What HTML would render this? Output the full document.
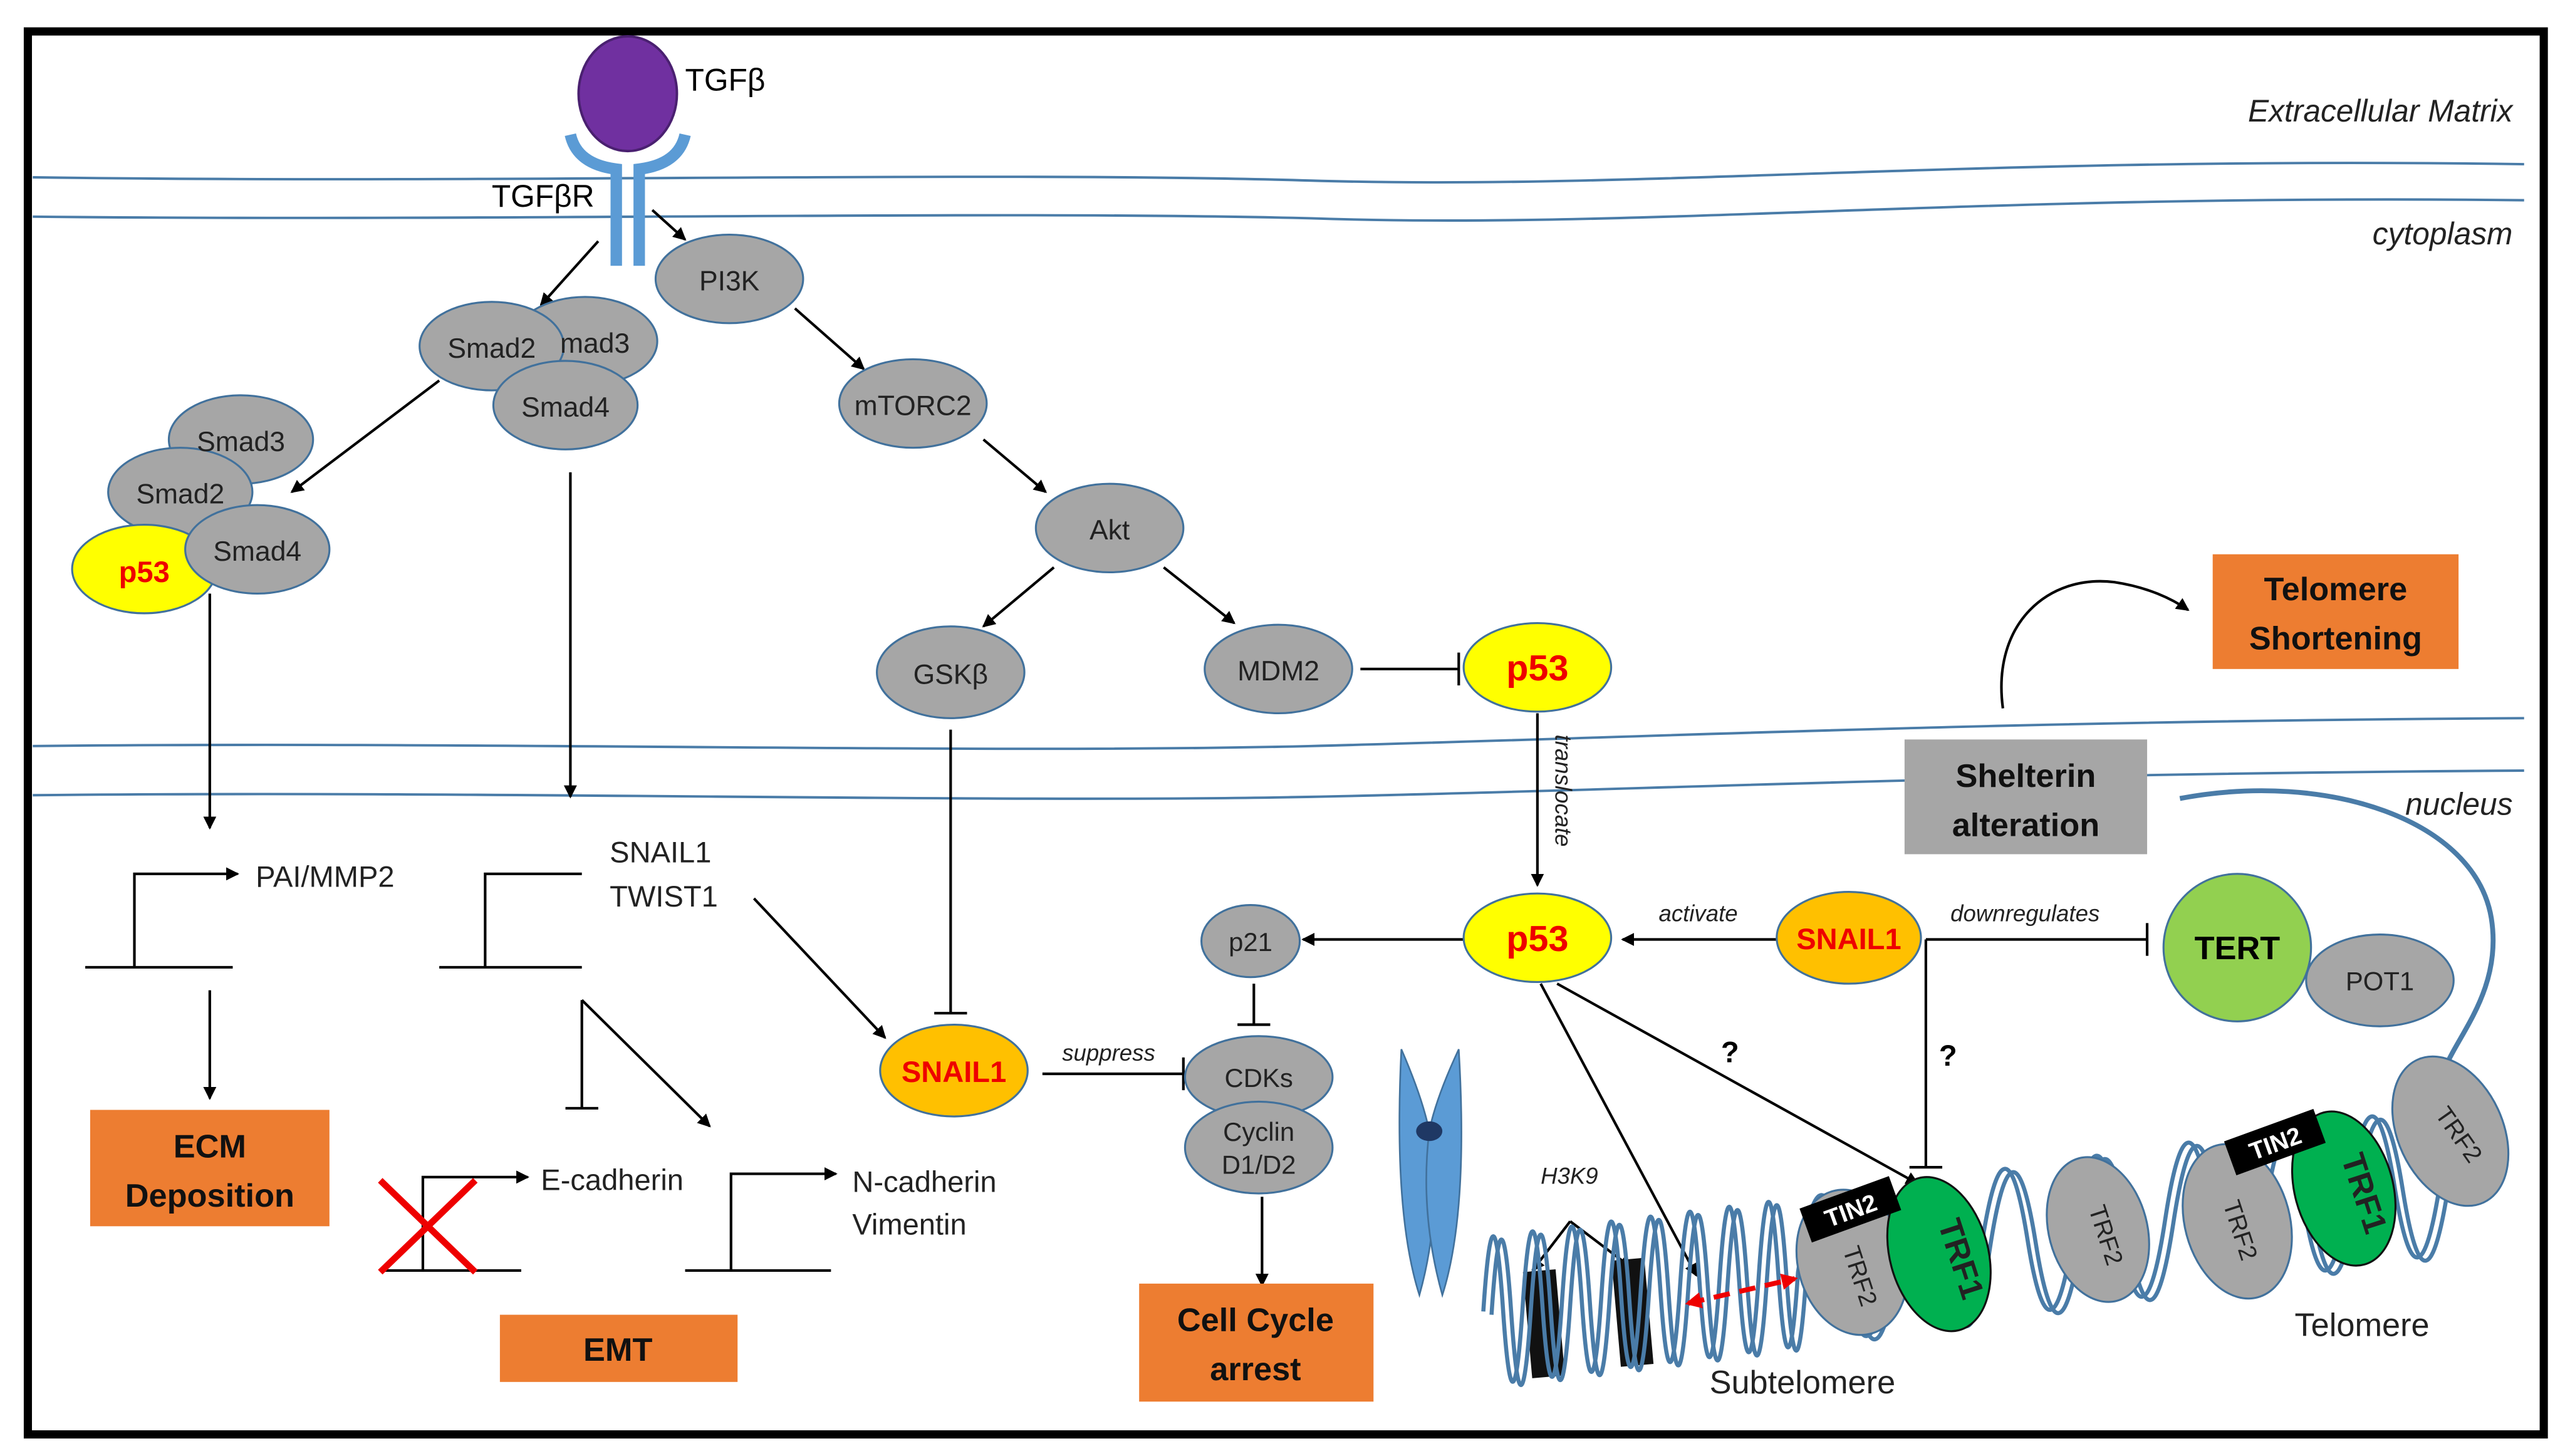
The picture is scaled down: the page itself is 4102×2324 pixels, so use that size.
<!DOCTYPE html>
<html><head><meta charset="utf-8"><style>
html,body{margin:0;padding:0;background:#fff}
svg{display:block}
text{font-family:"Liberation Sans",sans-serif}
</style></head><body>
<svg width="4102" height="2324" viewBox="0 0 1568 888" xmlns="http://www.w3.org/2000/svg">
<defs>
<marker id="a" markerWidth="8" markerHeight="8" refX="7" refY="4" orient="auto" markerUnits="userSpaceOnUse"><path d="M0,0 L8,4 L0,8 z" fill="#000"/></marker>
<marker id="r" markerWidth="10" markerHeight="10" refX="8" refY="5" orient="auto" markerUnits="userSpaceOnUse"><path d="M0,0 L10,5 L0,10 z" fill="#e00"/></marker>
<marker id="rs" markerWidth="10" markerHeight="10" refX="2" refY="5" orient="auto" markerUnits="userSpaceOnUse"><path d="M10,0 L0,5 L10,10 z" fill="#e00"/></marker>
<path id="hp" d="M905,800 Q911,709 917,798.5 Q923,888 929,797 Q935,706 941,795.5 Q947,885 953,794 Q959,703 965,792.5 Q971,882 977,791 Q983,700 989,789.5 Q995,879 1001,788 Q1007,697 1013,786.5 Q1019,876 1025,785 Q1031,694 1037,783.5 Q1043,873 1049,782 Q1055,691 1061,780.5 Q1067,870 1073,779 Q1079,688 1085,777.5 Q1091,867 1097,776 Q1111,684 1125,772 Q1139,860 1153,768 Q1167,676 1181,764 Q1195,852 1209,760 Q1223,668 1237,756 Q1251,844 1265,752 Q1279,660 1293,748 Q1307,836 1321,744 Q1335,652 1349,740 Q1363,828 1377,736 Q1391,644 1405,732 Q1419,820 1433,728 Q1447,636 1461,724 Q1475,812 1489,720 C1500,700 1495,675 1490,660"/>
</defs>
<rect x="0" y="0" width="1568" height="888" fill="#fff"/>
<rect x="17" y="19" width="1535" height="856" fill="none" stroke="#000" stroke-width="5"/>
<g fill="none" stroke="#4a7ca8" stroke-width="1.5">
<path d="M20,108 C300,112 600,104 800,110 C1000,116 1200,95 1540,100"/>
<path d="M20,132 C300,135 600,128 800,133 C1000,140 1200,118 1540,122"/>
<path d="M20,455 C300,452 600,460 800,455 C1000,450 1200,440 1540,438"/>
<path d="M20,485 C300,482 600,490 800,486 C1000,482 1200,472 1540,470"/>
</g>
<text x="1533" y="74" font-size="19" font-style="italic" text-anchor="end" fill="#222">Extracellular Matrix</text>
<text x="1533" y="149" font-size="19" font-style="italic" text-anchor="end" fill="#222">cytoplasm</text>
<text x="1533" y="497" font-size="19" font-style="italic" text-anchor="end" fill="#222">nucleus</text>
<ellipse cx="383" cy="57" rx="30" ry="35" fill="#7030a0" stroke="#4a2070" stroke-width="1.5"/>
<text x="418" y="55" font-size="19">TGFβ</text>
<g fill="none" stroke="#5b9bd5" stroke-width="7">
<path d="M348,82 Q352,100 376,103 L376,162"/>
<path d="M418,82 Q414,100 390,103 L390,162"/>
</g>
<text x="300" y="126" font-size="19">TGFβR</text>
<g stroke="#000" stroke-width="1.6" fill="none" marker-end="url(#a)">
<line x1="365" y1="147" x2="330" y2="186"/>
<line x1="398" y1="128" x2="418" y2="146"/>
<line x1="485" y1="188" x2="527" y2="225"/>
<line x1="600" y1="268" x2="638" y2="300"/>
<line x1="643" y1="346" x2="600" y2="382"/>
<line x1="710" y1="346" x2="753" y2="380"/>
<line x1="268" y1="232" x2="178" y2="300"/>
<line x1="128" y1="362" x2="128" y2="505"/>
<line x1="348" y1="288" x2="348" y2="486"/>
<line x1="938" y1="435" x2="938" y2="540"/>
<line x1="1084" y1="573" x2="990" y2="573"/>
<line x1="893" y1="573" x2="795" y2="573"/>
<line x1="128" y1="604" x2="128" y2="670"/>
<line x1="460" y1="548" x2="540" y2="633"/>
<line x1="355" y1="610" x2="433" y2="687"/>
<line x1="770" y1="730" x2="770" y2="784"/>
<line x1="950" y1="600" x2="1170" y2="722"/>
<line x1="940" y1="600" x2="1035" y2="778"/>
<line x1="958" y1="745" x2="935" y2="775"/>
<line x1="958" y1="745" x2="995" y2="773"/>
<path d="M1222,432 C1215,380 1250,350 1290,355 C1310,358 1325,365 1335,372"/>
</g>
<g stroke="#000" stroke-width="1.6" fill="none">
<line x1="830" y1="408" x2="890" y2="408"/><line x1="890" y1="398" x2="890" y2="418"/>
<line x1="580" y1="445" x2="580" y2="618"/><line x1="570" y1="618" x2="590" y2="618"/>
<line x1="636" y1="655" x2="722" y2="655"/><line x1="722" y1="645" x2="722" y2="665"/>
<line x1="765" y1="600" x2="765" y2="625"/><line x1="755" y1="625" x2="775" y2="625"/>
<line x1="1175" y1="573" x2="1310" y2="573"/><line x1="1310" y1="563" x2="1310" y2="583"/>
<line x1="1175" y1="573" x2="1175" y2="712"/><line x1="1165" y1="712" x2="1185" y2="712"/>
<line x1="355" y1="610" x2="355" y2="676"/><line x1="345" y1="676" x2="365" y2="676"/>
<line x1="52" y1="590" x2="142" y2="590"/><polyline points="82,590 82,533 145,533" marker-end="url(#a)"/>
<line x1="268" y1="590" x2="355" y2="590"/><polyline points="296,590 296,533 355,533"/>
<line x1="232" y1="775" x2="318" y2="775"/><polyline points="258,775 258,718 322,718" marker-end="url(#a)"/>
<line x1="418" y1="775" x2="507" y2="775"/><polyline points="446,775 446,716 510,716" marker-end="url(#a)"/>
</g>
<g stroke="#e00" stroke-width="4"><line x1="232" y1="720" x2="290" y2="776"/><line x1="290" y1="720" x2="232" y2="776"/></g>
<g font-size="18" fill="#222">
<text x="156" y="541">PAI/MMP2</text>
<text x="372" y="526">SNAIL1</text><text x="372" y="553">TWIST1</text>
<text x="330" y="726">E-cadherin</text>
<text x="520" y="727">N-cadherin</text><text x="520" y="753">Vimentin</text>
</g>
<g font-size="14" font-style="italic" fill="#222">
<text x="648" y="647">suppress</text>
<text x="1012" y="562">activate</text>
<text x="1190" y="562">downregulates</text>
<text x="940" y="722">H3K9</text>
<text x="949" y="448" transform="rotate(90 949 448)">translocate</text>
</g>
<text x="1050" y="648" font-size="18" font-weight="bold">?</text>
<text x="1183" y="650" font-size="18" font-weight="bold">?</text>
<g fill="#a6a6a6" stroke="#41719c" stroke-width="1.2">
<ellipse cx="357" cy="208" rx="44" ry="27"/>
<ellipse cx="300" cy="211" rx="44" ry="27"/>
<ellipse cx="345" cy="247" rx="44" ry="27"/>
<ellipse cx="445" cy="170" rx="45" ry="27"/>
<ellipse cx="557" cy="246" rx="45" ry="27"/>
<ellipse cx="677" cy="322" rx="45" ry="27"/>
<ellipse cx="580" cy="410" rx="45" ry="28"/>
<ellipse cx="780" cy="408" rx="45" ry="27"/>
<ellipse cx="147" cy="268" rx="44" ry="27"/>
<ellipse cx="110" cy="300" rx="44" ry="27"/>
</g>
<ellipse cx="88" cy="347" rx="44" ry="27" fill="#ffff00" stroke="#41719c" stroke-width="1.2"/>
<ellipse cx="157" cy="335" rx="44" ry="27" fill="#a6a6a6" stroke="#41719c" stroke-width="1.2"/>
<g font-size="17" fill="#222" text-anchor="middle">
<text x="363" y="215">mad3</text><text x="300" y="218">Smad2</text><text x="345" y="254">Smad4</text>
<text x="445" y="177">PI3K</text><text x="557" y="253">mTORC2</text><text x="677" y="329">Akt</text>
<text x="580" y="417">GSKβ</text><text x="780" y="415">MDM2</text>
<text x="147" y="275">Smad3</text><text x="110" y="307">Smad2</text><text x="157" y="342">Smad4</text>
</g>
<text x="88" y="355" font-size="18" font-weight="bold" fill="#e00" text-anchor="middle">p53</text>
<g stroke="#41719c" stroke-width="1.2">
<ellipse cx="938" cy="407" rx="45" ry="27" fill="#ffff00"/>
<ellipse cx="938" cy="572" rx="45" ry="27" fill="#ffff00"/>
<ellipse cx="1128" cy="572" rx="44" ry="28" fill="#ffc000"/>
<ellipse cx="582" cy="653" rx="45" ry="28" fill="#ffc000"/>
<ellipse cx="763" cy="574" rx="30" ry="22" fill="#a6a6a6"/>
<ellipse cx="768" cy="657" rx="45" ry="25" fill="#a6a6a6"/>
<ellipse cx="768" cy="700" rx="45" ry="28" fill="#a6a6a6"/>
<ellipse cx="1452" cy="598" rx="45" ry="28" fill="#a6a6a6"/>
<circle cx="1365" cy="578" r="45" fill="#92d050"/>
</g>
<g font-weight="bold" fill="#e00" text-anchor="middle">
<text x="938" y="415" font-size="22">p53</text>
<text x="938" y="580" font-size="22">p53</text>
<text x="1128" y="579" font-size="18">SNAIL1</text>
<text x="582" y="660" font-size="18">SNAIL1</text>
</g>
<g font-size="16" fill="#222" text-anchor="middle">
<text x="763" y="580">p21</text><text x="768" y="663">CDKs</text>
<text x="768" y="696">Cyclin</text><text x="768" y="716">D1/D2</text>
<text x="1452" y="604">POT1</text>
</g>
<text x="1365" y="585" font-size="20" font-weight="bold" text-anchor="middle">TERT</text>
<g fill="#ed7d31">
<rect x="55" y="677" width="146" height="71"/>
<rect x="305" y="802" width="145" height="41"/>
<rect x="695" y="783" width="143" height="72"/>
<rect x="1350" y="338" width="150" height="70"/>
</g>
<rect x="1162" y="451" width="148" height="70" fill="#a6a6a6"/>
<g font-size="20" font-weight="bold" fill="#111" text-anchor="middle">
<text x="128" y="706">ECM</text><text x="128" y="736">Deposition</text>
<text x="377" y="830">EMT</text>
<text x="766" y="812">Cell Cycle</text><text x="766" y="842">arrest</text>
<text x="1425" y="366">Telomere</text><text x="1425" y="396">Shortening</text>
<text x="1236" y="480">Shelterin</text><text x="1236" y="510">alteration</text>
</g>
<g fill="#5b9bd5" stroke="#41719c" stroke-width="1">
<path d="M855,640 Q868,670 872,690 Q880,740 866,790 Q850,740 855,640z"/>
<path d="M890,640 Q876,670 872,690 Q866,740 880,790 Q896,740 890,640z"/>
</g>
<ellipse cx="872" cy="690" rx="8" ry="6" fill="#1f3864"/>
<path d="M1330,487 C1420,470 1510,500 1520,560 C1528,610 1490,640 1490,660" fill="none" stroke="#4a7ca8" stroke-width="3"/>
<g fill="#111"><rect x="932" y="775" width="20" height="65" transform="rotate(-5 942 808)"/><rect x="986" y="768" width="20" height="65" transform="rotate(-5 996 800)"/></g>
<g fill="none" stroke="#4a7ca8" stroke-width="2.5">
<use href="#hp"/>
<use href="#hp" transform="translate(5,2)"/>
</g>
<line x1="1030" y1="795" x2="1095" y2="780" stroke="#e00" stroke-width="3" stroke-dasharray="10,6" marker-end="url(#r)" marker-start="url(#rs)"/>
<g stroke="#41719c" stroke-width="1.2">
<ellipse cx="1130" cy="770" rx="33" ry="45" fill="#a6a6a6" transform="rotate(-15 1130 770)"/>
<ellipse cx="1183" cy="765" rx="30" ry="48" fill="#00b050" stroke="#111" transform="rotate(-15 1183 765)"/>
<ellipse cx="1280" cy="750" rx="30" ry="45" fill="#a6a6a6" transform="rotate(-15 1280 750)"/>
<ellipse cx="1365" cy="745" rx="32" ry="48" fill="#a6a6a6" transform="rotate(-15 1365 745)"/>
<ellipse cx="1430" cy="725" rx="30" ry="48" fill="#00b050" stroke="#111" transform="rotate(-15 1430 725)"/>
<ellipse cx="1495" cy="690" rx="32" ry="48" fill="#a6a6a6" transform="rotate(-25 1495 690)"/>
</g>
<g transform="rotate(-20 1128 738)"><rect x="1100" y="727" width="58" height="22" fill="#000"/><text x="1129" y="744" font-size="15" font-weight="bold" fill="#fff" text-anchor="middle">TIN2</text></g>
<g transform="rotate(-20 1387 697)"><rect x="1359" y="686" width="58" height="22" fill="#000"/><text x="1388" y="703" font-size="15" font-weight="bold" fill="#fff" text-anchor="middle">TIN2</text></g>
<g font-size="15" fill="#222" text-anchor="middle">
<text x="1190" y="770" font-size="20" font-weight="bold" transform="rotate(72 1190 770)">TRF1</text>
<text x="1436" y="730" font-size="20" font-weight="bold" transform="rotate(72 1436 730)">TRF1</text>
<text x="1130" y="780" transform="rotate(72 1130 780)">TRF2</text>
<text x="1280" y="755" transform="rotate(72 1280 755)">TRF2</text>
<text x="1362" y="752" transform="rotate(72 1362 752)">TRF2</text>
<text x="1496" y="695" transform="rotate(55 1496 695)">TRF2</text>
</g>
<text x="1043" y="850" font-size="20" fill="#222">Subtelomere</text>
<text x="1400" y="815" font-size="20" fill="#222">Telomere</text>
</svg>
</body></html>
